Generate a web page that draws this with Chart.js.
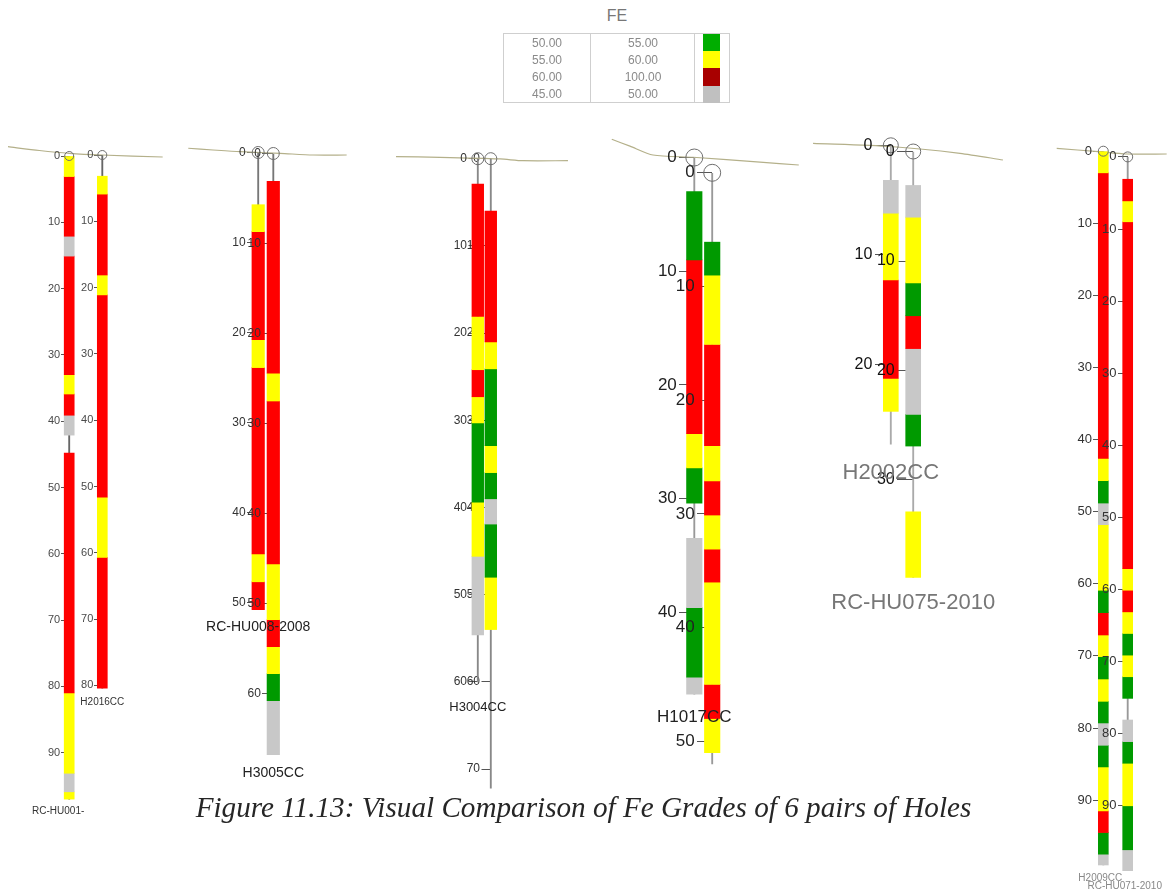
<!DOCTYPE html>
<html>
<head>
<meta charset="utf-8">
<script src="https://cdn.jsdelivr.net/npm/chart.js@4.4.1/dist/chart.umd.min.js"></script>
<style>
  html, body { margin: 0; padding: 0; background: #fff; }
  #page { position: relative; width: 1167px; height: 892px; overflow: hidden;
          font-family: "Liberation Sans", Arial, sans-serif; }
  canvas.panel { position: absolute; left: 0; top: 0; }
  #feTitle { position: absolute; left: 567px; width: 100px; top: 7px; text-align: center;
             font-size: 16px; color: #777; }
  .legBox { position: absolute; border: 1px solid #cfcfcf; box-sizing: border-box; }
  .legLine { position: absolute; width: 1px; background: #cfcfcf; }
  .legTxt { position: absolute; width: 80px; text-align: center; font-size: 12px; color: #8a8a8a;
            line-height: 17px; }
  .legSw { position: absolute; }
  #caption { position: absolute; left: 0; width: 1167px; text-align: center; top: 791px;
             font-family: "Liberation Serif", "Times New Roman", serif; font-style: italic;
             color: #262626; white-space: nowrap; }
</style>
</head>
<body>
<div id="page">
  <div id="feTitle">FE</div>
  <canvas id="p1" class="panel" width="1167" height="892"></canvas>
  <canvas id="p2" class="panel" width="1167" height="892"></canvas>
  <canvas id="p3" class="panel" width="1167" height="892"></canvas>
  <canvas id="p4" class="panel" width="1167" height="892"></canvas>
  <canvas id="p5" class="panel" width="1167" height="892"></canvas>
  <canvas id="p6" class="panel" width="1167" height="892"></canvas>
  <div id="caption">Figure 11.13: Visual Comparison of Fe Grades of 6 pairs of Holes</div>
</div>
<script>
// ---- Fe grade classes (legend rows: from, to) ----
const feFrom = [50.00, 55.00, 60.00, 45.00];
const feTo   = [55.00, 60.00, 100.00, 50.00];

// ---- Hole names per section pair ----
const pair1Holes = ['RC-HU001-', 'H2016CC'];
const pair2Holes = ['RC-HU008-2008', 'H3005CC'];
const pair3Holes = ['H3004CC', 'RC-3B'];
const pair4Holes = ['H1017CC', 'RC-4B'];
const pair5Holes = ['H2002CC', 'RC-HU075-2010'];
const pair6Holes = ['H2009CC', 'RC-HU071-2010'];

// ---- Assay intervals: boundaries (m down hole) and Fe class (lower bound); null = not sampled ----
const rcHu001Depths = [0, 3.1, 12.1, 15.1, 33.0, 35.9, 39.1, 42.1, 44.8, 81.0, 93.1, 95.9, 97.0];
const rcHu001Fe     = [55, 60, 45, 60, 55, 60, 45, null, 60, 55, 45, 55];
const rcHu001TD     = 97.0;

const h2016Depths = [3.2, 5.9, 18.1, 21.1, 51.6, 60.7, 80.4];
const h2016Fe     = [55, 60, 55, 60, 55, 60];
const h2016TD     = 80.4;

const rcHu008Depths = [5.8, 8.8, 20.8, 23.9, 44.6, 47.7, 50.8];
const rcHu008Fe     = [55, 60, 55, 60, 55, 60];
const rcHu008TD     = 50.8;

const h3005Depths = [3.1, 24.4, 27.5, 45.6, 51.8, 54.8, 57.8, 60.8, 66.8];
const h3005Fe     = [60, 55, 60, 55, 60, 55, 50, 45];
const h3005TD     = 66.8;

const h3004Depths = [2.9, 18.1, 24.2, 27.3, 30.3, 39.4, 45.6, 54.6];
const h3004Fe     = [60, 55, 60, 55, 50, 55, 45];
const h3004TD     = 60.0;

const rc3bDepths = [6.0, 21.0, 24.1, 32.9, 36.0, 39.0, 41.9, 48.0, 54.0];
const rc3bFe     = [60, 55, 50, 55, 50, 45, 50, 55];
const rc3bTD     = 72.2;

const h1017Depths = [3.0, 9.0, 24.3, 27.3, 30.4, 33.5, 39.6, 45.7, 47.2];
const h1017Fe     = [50, 60, 55, 50, null, 45, 50, 45];
const h1017TD     = 47.2;

const rc4bDepths = [6.1, 9.0, 15.1, 24.0, 27.1, 30.1, 33.1, 36.0, 45.0, 48.0, 51.0];
const rc4bFe     = [50, 55, 60, 55, 60, 55, 60, 55, 60, 55];
const rc4bTD     = 52.0;

const h2002Depths = [3.2, 6.2, 12.3, 21.3, 24.3];
const h2002Fe     = [45, 55, 60, 55];
const h2002TD     = 27.3;

const rcHu075Depths = [3.1, 6.0, 12.0, 15.0, 18.0, 24.0, 26.9, 32.9, 38.9];
const rcHu075Fe     = [45, 55, 50, 60, 45, 50, null, 55];
const rcHu075TD     = 38.9;

const h2009Depths = [0, 3.0, 42.6, 45.7, 48.8, 51.8, 60.9, 64.0, 67.1, 70.1, 73.2, 76.3, 79.3, 82.4, 85.4, 91.5, 94.5, 97.5, 99.0];
const h2009Fe     = [55, 60, 55, 50, 45, 55, 50, 60, 55, 50, 55, 50, 45, 50, 55, 60, 50, 45];
const h2009TD     = 99.0;

const rcHu071Depths = [3.1, 6.1, 9.0, 57.1, 60.1, 63.1, 66.1, 69.1, 72.1, 75.1, 78.1, 81.1, 84.1, 90.0, 96.1, 99.0];
const rcHu071Fe     = [60, 55, 60, 55, 60, 55, 50, 55, 50, null, 45, 50, 55, 50, 45];
const rcHu071TD     = 99.0;

// ---- Ground surface profiles: offset from first collar (m) and depth below it (m) ----
const ground1X = [-9.23, -4.5, 0, 4.95, 14.1];
const ground1D = [-1.40, -0.83, -0.41, -0.15, 0.15];
const ground2X = [-7.77, -5.02, -2.02, 2.42, 6.09, 9.83];
const ground2D = [-0.47, -0.28, -0.09, 0.09, 0.28, 0.28];
const ground3X = [-9.38, -4.33, 2.55, 5.18, 10.34];
const ground3D = [-0.23, -0.16, 0.03, 0.23, 0.23];
const ground4X = [-7.26, -5.66, -3.63, -0.11, 5.78, 9.19];
const ground4D = [-1.60, -1.00, -0.22, -0.02, 0.41, 0.66];
const ground5X = [-7.1, -0.07, 6.32, 10.24];
const ground5D = [-0.18, 0.11, 0.73, 1.34];
const ground6X = [-6.46, -0.69, 3.25, 8.79];
const ground6D = [-0.40, 0.07, 0.39, 0.39];

// ---- Colours ----
const barColour    = { 50: '#009a00', 55: '#ffff00', 60: '#ff0000', 45: '#c8c8c8' };
const legendColour = { 50: '#00ad00', 55: '#ffff00', 60: '#a80000', 45: '#c0c0c0' };
const FONT = '"Liberation Sans", Arial, sans-serif';

// ---- Legend table ----
(function buildLegend() {
  const page = document.getElementById('page');
  const add = (cls, css, text) => {
    const d = document.createElement('div');
    d.className = cls;
    Object.assign(d.style, css);
    if (text !== undefined) d.textContent = text;
    page.appendChild(d);
  };
  add('legBox', { left: '503px', top: '33px', width: '227px', height: '70px' });
  add('legLine', { left: '590px', top: '33px', height: '70px' });
  add('legLine', { left: '694px', top: '33px', height: '70px' });
  const rowH = 17.2;
  feFrom.forEach((lo, i) => {
    const y = 34 + i * rowH;
    add('legTxt', { left: '507px', top: (y + 0.5) + 'px' }, lo.toFixed(2));
    add('legTxt', { left: '603px', top: (y + 0.5) + 'px' }, feTo[i].toFixed(2));
    add('legSw', { left: '703px', top: y + 'px', width: '17px', height: rowH + 'px',
                   background: legendColour[lo] });
  });
})();

// ---- Caption sized to its line length ----
(function sizeCaption() {
  const cap = document.getElementById('caption');
  const c = document.createElement('canvas').getContext('2d');
  c.font = 'italic 100px "Liberation Serif"';
  const w = c.measureText(cap.textContent).width;
  cap.style.fontSize = (100 * 776 / w).toFixed(2) + 'px';
})();

function depthTicks(td) {
  const out = [];
  for (let v = 0; v <= td + 1e-6; v += 10) out.push(v);
  return out;
}

// Depth labels beside each trace and hole names
function drawDepthLabels(chart, opts, under) {
  const ctx = chart.ctx;
  (opts.axes || []).forEach(a => {
    if (!!a.under !== under) return;
    const scale = chart.scales[a.axis];
    const x = chart.scales.x.getPixelForValue(a.hole) - opts.tickLen - opts.tickPad;
    ctx.save();
    ctx.font = opts.tickSize + 'px ' + FONT;
    ctx.fillStyle = opts.tickColor;
    ctx.textAlign = 'right';
    ctx.textBaseline = 'middle';
    scale.ticks.forEach(t => ctx.fillText(String(t.value), x, scale.getPixelForValue(t.value)));
    ctx.restore();
  });
}
const holeLabels = {
  id: 'holeLabels',
  beforeDatasetsDraw(chart, args, opts) { drawDepthLabels(chart, opts, true); },
  afterDatasetsDraw(chart, args, opts) {
    drawDepthLabels(chart, opts, false);
    const ctx = chart.ctx;
    (opts.names || []).forEach(it => {
      const x = chart.scales.x.getPixelForValue(it.hole) + it.dx;
      const y = chart.scales[it.axis].getPixelForValue(it.depth);
      ctx.save();
      ctx.font = opts.nameSize + 'px ' + FONT;
      ctx.fillStyle = opts.nameColor;
      ctx.textAlign = 'center';
      ctx.textBaseline = 'middle';
      ctx.fillText(it.hole, x, y);
      ctx.restore();
    });
  }
};

function holeObj(name, depths, fe, td) { return { name, depths, fe, td }; }

const panels = [
  { id: 'p1', holes: [holeObj(pair1Holes[0], rcHu001Depths, rcHu001Fe, rcHu001TD),
                      holeObj(pair1Holes[1], h2016Depths, h2016Fe, h2016TD)],
    xA: 69.2, xB: 102.3, collarY: [156, 155], ppm: 6.63, barW: 10, circleR: 4.5, trace: '#666',
    tick: { len: 8, pad: 1, size: 11, color: '#4a4a4a' }, bUnder: false,
    names: { size: 10, color: '#333', at: [[98.9, -11], [82.5, 0]] },
    ground: [ground1X, ground1D] },
  { id: 'p2', holes: [holeObj(pair2Holes[0], rcHu008Depths, rcHu008Fe, rcHu008TD),
                      holeObj(pair2Holes[1], h3005Depths, h3005Fe, h3005TD)],
    xA: 258.2, xB: 273.3, collarY: [152.5, 153.5], ppm: 9.0, barW: 12.5, circleR: 6, trace: '#777',
    tick: { len: 11, pad: 1.5, size: 12, color: '#333' }, bUnder: false,
    names: { size: 14, color: '#222', at: [[52.7, 0], [68.8, 0]] },
    ground: [ground2X, ground2D] },
  { id: 'p3', holes: [holeObj(pair3Holes[0], h3004Depths, h3004Fe, h3004TD),
                      holeObj(pair3Holes[1], rc3bDepths, rc3bFe, rc3bTD)],
    xA: 477.8, xB: 490.8, collarY: [158.7, 158.7], ppm: 8.72, barW: 11.7, circleR: 6, trace: '#888',
    tick: { len: 9.5, pad: 1.3, size: 12, color: '#333' }, bUnder: true,
    names: { size: 13, color: '#222', at: [[62.9, 0], null] },
    ground: [ground3X, ground3D] },
  { id: 'p4', holes: [holeObj(pair4Holes[0], h1017Depths, h1017Fe, h1017TD),
                      holeObj(pair4Holes[1], rc4bDepths, rc4bFe, rc4bTD)],
    xA: 694.3, xB: 712.2, collarY: [157.5, 172.8], ppm: 11.37, barW: 15.5, circleR: 8.5, trace: '#999',
    tick: { len: 15, pad: 2.5, size: 17, color: '#222' }, bUnder: false,
    names: { size: 17, color: '#222', at: [[49.2, 0], null] },
    ground: [ground4X, ground4D] },
  { id: 'p5', holes: [holeObj(pair5Holes[0], h2002Depths, h2002Fe, h2002TD),
                      holeObj(pair5Holes[1], rcHu075Depths, rcHu075Fe, rcHu075TD)],
    xA: 890.8, xB: 913.2, collarY: [145.3, 151.5], ppm: 10.95, barW: 15, circleR: 7.5, trace: '#aaa',
    tick: { len: 16, pad: 2.5, size: 16, color: '#111' }, bUnder: false,
    names: { size: 22, color: '#777', at: [[29.9, 0], [41.2, 0]] },
    ground: [ground5X, ground5D] },
  { id: 'p6', holes: [holeObj(pair6Holes[0], h2009Depths, h2009Fe, h2009TD),
                      holeObj(pair6Holes[1], rcHu071Depths, rcHu071Fe, rcHu071TD)],
    xA: 1103.3, xB: 1127.7, collarY: [151.2, 156.9], ppm: 7.21, barW: 10, circleR: 5, trace: '#999',
    tick: { len: 10, pad: 1.3, size: 13, color: '#333' }, bUnder: false,
    names: { size: 10, color: '#888', at: [[100.9, -3], [101.1, -3]] },
    ground: [ground6X, ground6D] }
];

function buildPanel(cfg) {
  const sep = cfg.xB - cfg.xA;
  const left = cfg.xA - sep / 2, right = cfg.xB + sep / 2;
  const top = 110, bottom = 870;
  const labels = cfg.holes.map(h => h.name);
  const axisIds = ['yA', 'yB'];
  const datasets = [];

  cfg.holes.forEach((h, hi) => {
    const yId = axisIds[hi];
    // hole trace from collar to end of hole
    datasets.push({ type: 'bar', xAxisID: 'x', yAxisID: yId,
      data: labels.map((_, k) => k === hi ? [0, h.td] : null),
      backgroundColor: cfg.trace, barThickness: 1.2, grouped: false, order: 4, clip: false });
    // Fe grade intervals
    h.fe.forEach((g, i) => {
      if (g === null) return;
      datasets.push({ type: 'bar', xAxisID: 'x', yAxisID: yId,
        data: labels.map((_, k) => k === hi ? [h.depths[i], h.depths[i + 1]] : null),
        backgroundColor: barColour[g], borderWidth: 0, barThickness: cfg.barW,
        grouped: false, order: 2, clip: false });
    });
    // collar marker
    datasets.push({ type: 'scatter', xAxisID: 'x', yAxisID: yId,
      data: [{ x: h.name, y: 0 }], pointStyle: 'circle', pointRadius: cfg.circleR,
      borderColor: '#6e6e6e', borderWidth: 1, backgroundColor: 'rgba(0,0,0,0)',
      order: 1, clip: false });
  });

  // ground surface profile (indexed on depth so the whole profile is kept
  // even where it runs past the narrow hole area)
  datasets.push({ type: 'line', indexAxis: 'y', xAxisID: 'xg', yAxisID: 'yA',
    data: cfg.ground[0].map((x, i) => ({ x, y: cfg.ground[1][i] })),
    borderColor: '#b4b08a', borderWidth: 1.2, pointRadius: 0, tension: 0.25,
    order: 5, clip: false });

  const holeAxis = hi => {
    const h = cfg.holes[hi];
    const y0 = cfg.collarY[hi];
    return {
      type: 'linear', axis: 'y', reverse: true,
      position: { x: h.name },
      min: (top - y0) / cfg.ppm, max: (bottom - y0) / cfg.ppm,
      display: true, z: (hi === 1 && cfg.bUnder) ? 0 : 1,
      border: { display: false },
      grid: { drawOnChartArea: false, drawTicks: true, tickLength: cfg.tick.len,
              color: '#555', lineWidth: 1 },
      ticks: { display: false, autoSkip: false },
      afterBuildTicks: axis => { axis.ticks = depthTicks(h.td).map(v => ({ value: v })); }
    };
  };

  const nameItems = [];
  cfg.names.at.forEach((a, hi) => {
    if (a) nameItems.push({ hole: labels[hi], axis: axisIds[hi], depth: a[0], dx: a[1] });
  });
  const axisItems = labels.map((name, hi) => ({ hole: name, axis: axisIds[hi],
                                                under: hi === 1 && cfg.bUnder }));

  new Chart(document.getElementById(cfg.id), {
    type: 'bar',
    data: { labels, datasets },
    options: {
      responsive: false, animation: false, events: [],
      layout: { padding: { left, top, right: 1167 - right, bottom: 892 - bottom } },
      scales: {
        x: { type: 'category', display: false, offset: true },
        xg: { type: 'linear', axis: 'x', display: false, bounds: 'data', offset: false,
              grace: 0, min: (left - cfg.xA) / cfg.ppm, max: (right - cfg.xA) / cfg.ppm },
        yA: holeAxis(0),
        yB: holeAxis(1)
      },
      plugins: {
        legend: { display: false }, tooltip: { enabled: false },
        holeLabels: { axes: axisItems, names: nameItems,
                      tickLen: cfg.tick.len, tickPad: cfg.tick.pad,
                      tickSize: cfg.tick.size, tickColor: cfg.tick.color,
                      nameSize: cfg.names.size, nameColor: cfg.names.color }
      }
    },
    plugins: [holeLabels]
  });
}

panels.forEach(buildPanel);
</script>
</body>
</html>
